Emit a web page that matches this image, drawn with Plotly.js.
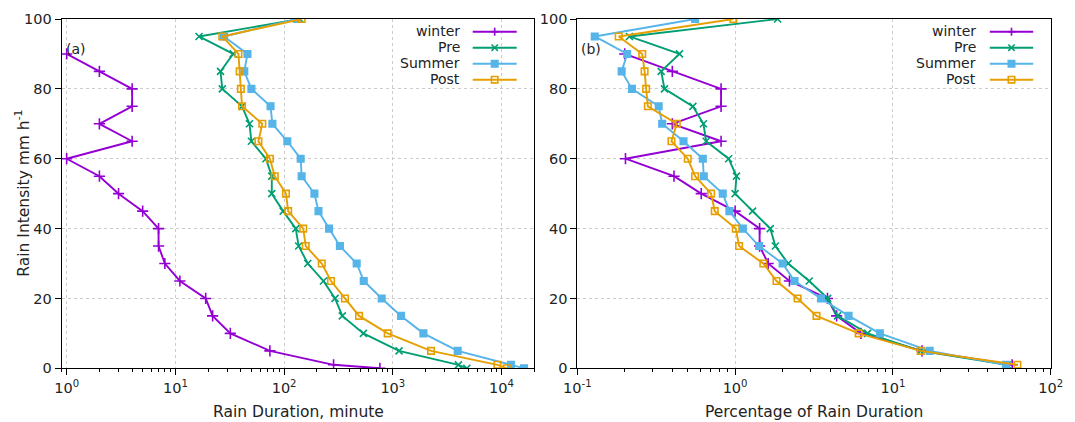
<!DOCTYPE html>
<html><head><meta charset="utf-8">
<script src="https://cdn.plot.ly/plotly-3.0.1.min.js"></script>
<style>html,body{margin:0;padding:0;background:#fff}#chart{width:1075px;height:422px}</style>
</head><body><div id="chart"></div>
<script>
// ---- data ----
const intensityDur = [0,1,5,10,15,20,25,30,35,40,45,50,55,60,65,70,75,80,85,90,95,100];
const intensityPct = [1,5,10,15,20,25,30,35,40,45,50,55,60,65,70,75,80,85,90,95,100];
// Rain duration, minutes (panel a)
const winterDur = [760,285,74,32,22,19,11,8,7,7,5,3,2,1,4,2,4,4,2,1];
const preDur    = [4790,4010,1140,536,343,294,230,165,136,128,98,77,77,68,50,48,41,27,26,34,16.5,140];
const summerDur = [16100,12200,3950,1910,1190,790,540,465,326,259,207,190,145,142,107,78,75,50,43,46,28,131];
const postDur   = [11170,9150,2245,897,489,363,270,222,158,150,109,104,82,74,58,63,41,40,39,38,27,145];
// Percentage of rain duration (panel b)
const winterPct = [57,15.3,6.27,4.4,3.85,2.21,1.62,1.43,1.43,1.0,0.61,0.41,0.202,0.815,0.40,0.815,0.815,0.40,0.20];
const prePct    = [53,15.0,6.91,4.46,3.86,2.95,2.17,1.80,1.67,1.29,1.0,1.02,0.91,0.655,0.63,0.54,0.357,0.34,0.444,0.214,1.86];
const summerPct = [52,17.1,8.27,5.24,3.50,2.38,2.0,1.42,1.12,0.92,0.835,0.633,0.624,0.471,0.345,0.328,0.222,0.191,0.207,0.129,0.558];
const postPct   = [61.5,15.0,6.06,3.28,2.49,1.83,1.51,1.06,1.01,0.743,0.705,0.558,0.501,0.395,0.427,0.28,0.273,0.267,0.258,0.183,0.975];
const seriesNames = ['winter','Pre','Summer','Post'];
const tickValsA = [1,10,100,1000,10000];
const tickTextA = ['10<sup>0</sup>','10<sup>1</sup>','10<sup>2</sup>','10<sup>3</sup>','10<sup>4</sup>'];
const tickValsB = [0.1,1,10,100];
const tickTextB = ['10<sup>-1</sup>','10<sup>0</sup>','10<sup>1</sup>','10<sup>2</sup>'];

// ---- styles ----
const W = 1075, H = 422;
const FONT = 'DejaVu Sans';
const colors = ['#9400d3','#009e73','#56b4e9','#e69f00'];
const symbols = ['cross-thin-open','x-thin-open','square','square-open'];
const msize = [8,7,6.5,6.5];

function tr(x, y, i, xa, ya) {
  return {
    x: x, y: y.slice(0, x.length), xaxis: xa, yaxis: ya, type: 'scatter', mode: 'lines+markers',
    name: seriesNames[i], showlegend: false,
    line: {color: colors[i], width: 1.9},
    marker: {symbol: symbols[i], size: msize[i], color: colors[i], line: {color: colors[i], width: 1.6}}
  };
}
const data = [
  tr(winterDur, intensityDur, 0, 'x', 'y'),
  tr(preDur, intensityDur, 1, 'x', 'y'),
  tr(summerDur, intensityDur, 2, 'x', 'y'),
  tr(postDur, intensityDur, 3, 'x', 'y'),
  tr(winterPct, intensityPct, 0, 'x2', 'y2'),
  tr(prePct, intensityPct, 1, 'x2', 'y2'),
  tr(summerPct, intensityPct, 2, 'x2', 'y2'),
  tr(postPct, intensityPct, 3, 'x2', 'y2')
];

const px = v => v / W, py = v => 1 - v / H;
const yDom = [py(368.3), py(19)];
const domA = [px(61.7), px(534.3)];
const domB = [px(577.3), px(1050.7)];

function xax(dom, range, tv, tt, anchor) {
  return {
    type: 'log', domain: dom, range: range, anchor: anchor,
    tickmode: 'array', tickvals: tv, ticktext: tt,
    ticks: 'outside', ticklen: 6, tickwidth: 1, tickcolor: '#000',
    showline: true, mirror: true, linecolor: '#000', linewidth: 1,
    showgrid: true, gridcolor: '#cccccc', griddash: 'dot', gridwidth: 1,
    zeroline: false,
    minor: {dtick: 'D1', ticks: 'outside', ticklen: 3, tickcolor: '#000', showgrid: false},
    tickfont: {family: FONT, size: 14.5, color: '#222'}
  };
}
function yax(anchor) {
  return {
    domain: yDom, range: [0, 100], anchor: anchor, dtick: 20,
    ticks: 'outside', ticklen: 6, tickwidth: 1, tickcolor: '#000',
    showline: true, mirror: true, linecolor: '#000', linewidth: 1,
    showgrid: true, gridcolor: '#cccccc', griddash: 'dot', gridwidth: 1,
    zeroline: false,
    tickfont: {family: FONT, size: 14.5, color: '#222'}
  };
}

// custom gnuplot-style legend (text, then line sample with marker)
const shapes = [], annotations = [];
[[461.7, 472.7, 516.7], [977.5, 989.8, 1033.2]].forEach(([tx, l0, l1]) => {
  seriesNames.forEach((nm, i) => {
    const yy = 31.7 + 16 * i, c = colors[i], cx = (l0 + l1) / 2;
    annotations.push({xref: 'paper', yref: 'paper', x: px(tx), y: py(yy - 1), xanchor: 'right', yanchor: 'middle',
      text: nm, showarrow: false, font: {family: FONT, size: 14, color: '#222'}});
    shapes.push({type: 'line', xref: 'paper', yref: 'paper', x0: px(l0), x1: px(l1), y0: py(yy), y1: py(yy), line: {color: c, width: 2}});
    const d = 3.2;
    if (i === 0) {
      shapes.push({type: 'line', xref: 'paper', yref: 'paper', x0: px(cx - 4), x1: px(cx + 4), y0: py(yy), y1: py(yy), line: {color: c, width: 1.6}});
      shapes.push({type: 'line', xref: 'paper', yref: 'paper', x0: px(cx), x1: px(cx), y0: py(yy - 4), y1: py(yy + 4), line: {color: c, width: 1.6}});
    } else if (i === 1) {
      shapes.push({type: 'line', xref: 'paper', yref: 'paper', x0: px(cx - d), x1: px(cx + d), y0: py(yy - d), y1: py(yy + d), line: {color: c, width: 1.6}});
      shapes.push({type: 'line', xref: 'paper', yref: 'paper', x0: px(cx - d), x1: px(cx + d), y0: py(yy + d), y1: py(yy - d), line: {color: c, width: 1.6}});
    } else {
      shapes.push({type: 'rect', xref: 'paper', yref: 'paper', x0: px(cx - d), x1: px(cx + d), y0: py(yy + d), y1: py(yy - d),
        line: {color: c, width: 1.6}, fillcolor: i === 2 ? c : 'rgba(0,0,0,0)'});
    }
  });
});
annotations.push({xref: 'paper', yref: 'paper', x: px(63.5), y: py(48.7), xanchor: 'left', yanchor: 'middle', text: '(a)', showarrow: false, font: {family: FONT, size: 14, color: '#222'}});
annotations.push({xref: 'paper', yref: 'paper', x: px(578.5), y: py(48.7), xanchor: 'left', yanchor: 'middle', text: '(b)', showarrow: false, font: {family: FONT, size: 14, color: '#222'}});
annotations.push({xref: 'paper', yref: 'paper', x: (domA[0] + domA[1]) / 2, y: py(412), xanchor: 'center', yanchor: 'middle', text: 'Rain Duration, minute', showarrow: false, font: {family: FONT, size: 15.5, color: '#222'}});
annotations.push({xref: 'paper', yref: 'paper', x: (domB[0] + domB[1]) / 2, y: py(412), xanchor: 'center', yanchor: 'middle', text: 'Percentage of Rain Duration', showarrow: false, font: {family: FONT, size: 15.5, color: '#222'}});
annotations.push({xref: 'paper', yref: 'paper', x: px(23), y: (yDom[0] + yDom[1]) / 2, xanchor: 'center', yanchor: 'middle', textangle: -90, text: 'Rain Intensity mm h<sup>-1</sup>', showarrow: false, font: {family: FONT, size: 15.5, color: '#222'}});

const layout = {
  width: W, height: H, margin: {l: 0, r: 0, t: 0, b: 0},
  paper_bgcolor: '#fff', plot_bgcolor: '#fff', showlegend: false,
  font: {family: FONT, color: '#222'},
  xaxis: xax(domA, [Math.log10(0.9), Math.log10(20000)], tickValsA, tickTextA, 'y'),
  yaxis: yax('x'),
  xaxis2: xax(domB, [-1, 2], tickValsB, tickTextB, 'y2'),
  yaxis2: yax('x2'),
  shapes: shapes, annotations: annotations
};
Plotly.newPlot('chart', data, layout, {displayModeBar: false, staticPlot: true});
</script></body></html>
